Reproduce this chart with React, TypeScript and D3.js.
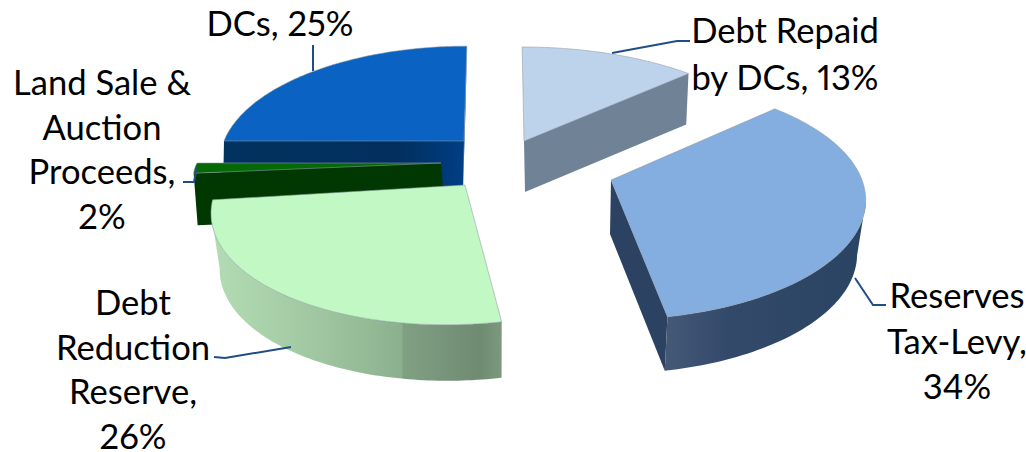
import React from "react";
import * as d3 from "d3";

// Funding sources, in clockwise order from twelve o'clock
const sourceNames = ["Debt Repaid by DCs", "Reserves Tax-Levy", "Debt Reduction Reserve", "Land Sale & Auction Proceeds", "DCs"];
const sourceShares = [13, 34, 26, 2, 25];
const topColors = ["#bdd3ec", "#84ade0", "#c2f8c4", "#056a05", "#0a62c2"];

const labelLines = [
  ["Debt Repaid", "by DCs, 13%"],
  ["Reserves", "Tax-Levy,", "34%"],
  ["Debt", "Reduction", "Reserve,", "26%"],
  ["Land Sale &", "Auction", "Proceeds,", "2%"],
  ["DCs, 25%"],
];

const WIDTH = 1026;
const HEIGHT = 452;

// Exploded placement and tilt of each wedge
const wedges = [
  { apex: [524, 141], rx: 254, ry: 110, persp: 0.17, shear: 0.02, drop: [1, 51], shrink: 0.98 },
  { apex: [611, 180], rx: 251, ry: 116, persp: 0.17, shear: 0, drop: [-1, 54], shrink: 0.97 },
  { apex: [465, 185], rx: 247, ry: 116, persp: 0.17, shear: -0.138, drop: [1, 56], shrink: 0.97 },
  { apex: [441, 163], rx: 244, ry: 80, persp: 0.17, shear: 0, drop: [4, 52], shrink: 1 },
  { apex: [464, 141], rx: 240, ry: 111, persp: 0.17, shear: -0.03, drop: [-1, 50], shrink: 1 },
];

// Horizontal shading of the curved and cut walls: [x, colour] stops
const arcShades: [number, string][][] = [
  [[520, "#6d8094"], [690, "#7f91a3"]],
  [[660, "#465a78"], [730, "#33496a"], [860, "#2a4463"]],
  [[210, "#b3dcb4"], [320, "#9fc6a0"], [402, "#8bb08e"], [403, "#80a083"], [480, "#6f8b72"], [503, "#7d9a7f"]],
  [[195, "#013a01"], [445, "#013a01"]],
  [[224, "#02325f"], [400, "#022f5e"], [445, "#003a78"], [467, "#003f88"]],
];
const cutColors = ["#6f8296", "#2b4262", "#6f8b72", "#013701", "url(#wall-4)"];

const leaders: [number, number][][] = [
  [[612, 53], [677, 41], [690, 41]],
  [[855, 278], [873, 305], [886, 305]],
  [[291, 347], [225, 358], [214, 357]],
  [[197, 167], [194, 182], [183, 182]],
  [[313, 71], [313, 45]],
];

// Label anchor: centre x, first baseline y, line spacing
const labelAnchors = [
  [785, 43, 46.5],
  [957, 308, 45.5],
  [133, 315, 44.7],
  [102, 95, 44.7],
  [280, 36, 0],
];

const arcs = d3
  .pie<number>()
  .sort(null)
  .startAngle(0)
  .endAngle(2 * Math.PI)(sourceShares);

type Pt = [number, number];

function project(i: number, theta: number, bottom: boolean): Pt {
  const w = wedges[i];
  const X = Math.sin(theta);
  const Y = -Math.cos(theta);
  const scale = 1 - w.persp * Y;
  const y = (w.ry * Y) / scale;
  let x = (w.rx * X) / scale + w.shear * y;
  if (bottom) x *= w.shrink;
  return bottom ? [w.apex[0] + w.drop[0] + x, w.apex[1] + w.drop[1] + y] : [w.apex[0] + x, w.apex[1] + y];
}

const poly = d3.line<Pt>().curve(d3.curveLinear);

function Wedge({ i }: { i: number }) {
  const { startAngle, endAngle } = arcs[i];
  const thetas = d3.range(0, 97).map((k) => startAngle + ((endAngle - startAngle) * k) / 96);
  const w = wedges[i];
  const topArc = thetas.map((t) => project(i, t, false));
  const botArc = thetas.map((t) => project(i, t, true));
  const topApex: Pt = [w.apex[0], w.apex[1]];
  const botApex: Pt = [w.apex[0] + w.drop[0], w.apex[1] + w.drop[1]];

  const outline = [topApex, ...topArc];
  const topPath = poly(outline) + "Z";

  // A wall faces the viewer when the clockwise outline runs leftwards along it
  const visible: number[] = [];
  for (let k = 0; k < topArc.length - 1; k++) if (topArc[k + 1][0] < topArc[k][0]) visible.push(k);
  let arcWall = "";
  if (visible.length) {
    const a = visible[0];
    const b = visible[visible.length - 1] + 1;
    arcWall = poly([...topArc.slice(a, b + 1), ...botArc.slice(a, b + 1).reverse()]) + "Z";
  }
  const cuts: string[] = [];
  if (topArc[0][0] < topApex[0]) cuts.push(poly([topApex, topArc[0], botArc[0], botApex]) + "Z");
  const last = topArc.length - 1;
  if (topApex[0] < topArc[last][0]) cuts.push(poly([topArc[last], topApex, botApex, botArc[last]]) + "Z");

  return (
    <g>
      {cuts.map((d, k) => (
        <path key={k} d={d} fill={cutColors[i]} />
      ))}
      {arcWall && <path d={arcWall} fill={`url(#wall-${i})`} />}
      <path d={topPath} fill={topColors[i]} stroke="#8f9aa3" strokeWidth={0.8} strokeOpacity={0.7} strokeLinejoin="round" />
    </g>
  );
}

const paintOrder = [4, 3, 2, 0, 1];

export default function App() {
  const leaderLine = d3.line<[number, number]>();
  return (
    <svg
      width={WIDTH}
      height={HEIGHT}
      viewBox={`0 0 ${WIDTH} ${HEIGHT}`}
      style={{ position: "absolute", left: 0, top: 0, background: "#fff" }}
    >
      <defs>
        {arcShades.map((stops, i) => {
          const x0 = stops[0][0];
          const x1 = stops[stops.length - 1][0];
          return (
            <linearGradient key={i} id={`wall-${i}`} gradientUnits="userSpaceOnUse" x1={x0} x2={x1} y1={0} y2={0}>
              {stops.map(([x, c], k) => (
                <stop key={k} offset={(x - x0) / (x1 - x0)} stopColor={c} />
              ))}
            </linearGradient>
          );
        })}
      </defs>
      {paintOrder.map((i) => (
        <Wedge key={sourceNames[i]} i={i} />
      ))}
      {leaders.map((l, i) => (
        <path key={i} d={leaderLine(l) ?? ""} fill="none" stroke="#1f4e86" strokeWidth={2} />
      ))}
      {labelLines.map((lines, i) => (
        <text
          key={i}
          fontFamily="Lato, sans-serif"
          fontSize={34.6}
          fill="#000"
          textAnchor="middle"
          style={{ fontVariantNumeric: "proportional-nums" }}
        >
          {lines.map((line, k) => (
            <tspan key={k} x={labelAnchors[i][0]} y={labelAnchors[i][1] + k * labelAnchors[i][2]}>
              {line}
            </tspan>
          ))}
        </text>
      ))}
    </svg>
  );
}
